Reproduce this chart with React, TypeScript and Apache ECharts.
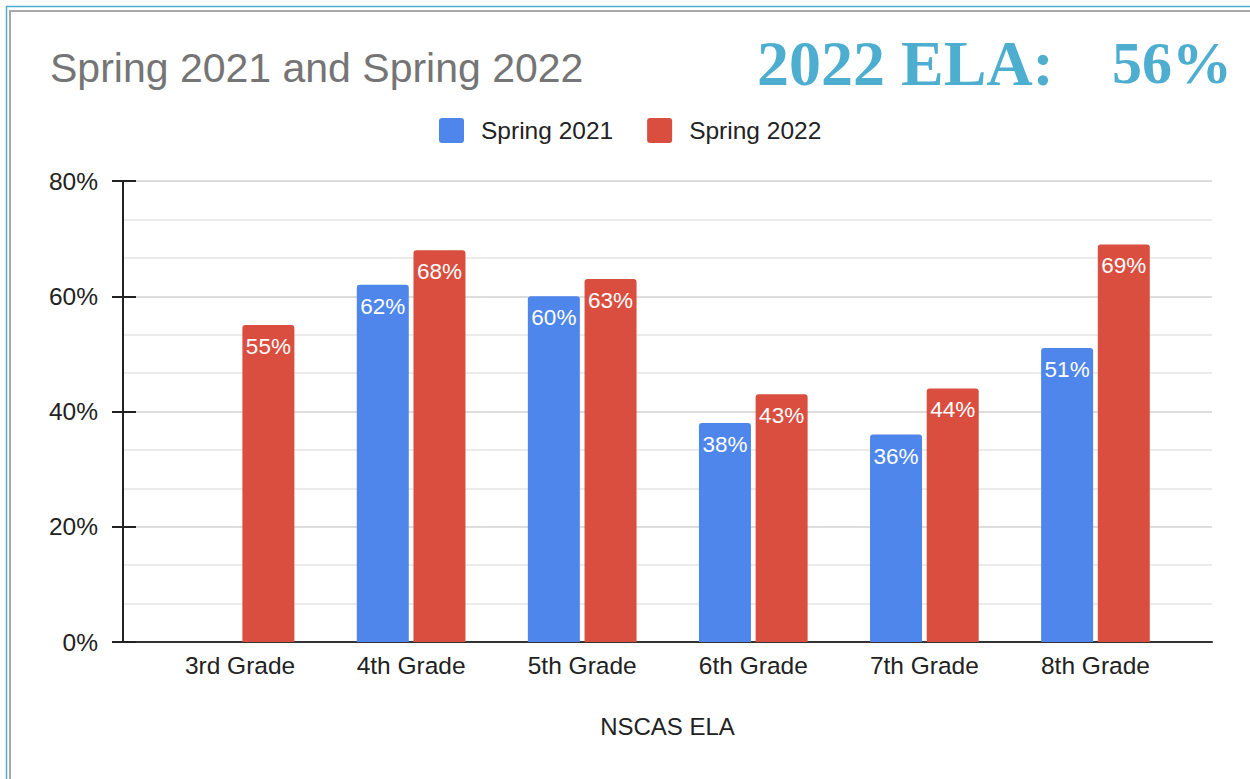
import React, { useEffect, useRef } from "react";
import * as echarts from "echarts";

const categories = ["3rd Grade", "4th Grade", "5th Grade", "6th Grade", "7th Grade", "8th Grade"];
const spring2021 = [null, 62, 60, 38, 36, 51];
const spring2022 = [55, 68, 63, 43, 44, 69];
const seriesNames = ["Spring 2021", "Spring 2022"];
const yTicks = { min: 0, max: 80, interval: 20 };
const titleText = "Spring 2021 and Spring 2022";
const headlineLabel = "2022 ELA:";
const headlineValue = "56%";
const xAxisName = "NSCAS ELA";

const SANS = "'Liberation Sans', Arial, Helvetica, sans-serif";
const SERIF = "'Liberation Serif', 'Times New Roman', serif";
const BLUE = "#4e86ec";
const RED = "#da4e3f";
const LEGEND_ICON = "path://M3,0 H22 Q25,0 25,3 V22 Q25,25 22,25 H3 Q0,25 0,22 V3 Q0,0 3,0 Z";

export default function App() {
  const ref = useRef<HTMLDivElement>(null);
  useEffect(() => {
    document.body.style.margin = "0";
    if (!ref.current) return;
    const chart = echarts.init(ref.current, null, { renderer: "svg" });
    const labelStyle = {
      show: true,
      position: "insideTop",
      distance: 10,
      color: "#ffffff",
      fontSize: 22.5,
      fontFamily: SANS,
      formatter: "{c}%",
    };
    chart.setOption({
      animation: false,
      backgroundColor: "#ffffff",
      textStyle: { fontFamily: SANS },
      legend: {
        left: 434,
        top: 113,
        itemWidth: 25,
        itemHeight: 25,
        itemGap: 34,
        icon: LEGEND_ICON,
        data: seriesNames,
        textStyle: { fontSize: 24.5, color: "#222222", fontFamily: SANS, padding: [0, 0, 0, 12] },
      },
      grid: [
        { left: 123, right: 38, top: 181, bottom: 137 },
        { left: 154.5, right: 69, top: 181, bottom: 137 },
      ],
      xAxis: [
        {
          gridIndex: 0,
          type: "value",
          min: 0,
          max: 1,
          axisLine: { show: true, lineStyle: { color: "#333333", width: 2 } },
          axisTick: { show: false },
          axisLabel: { show: false },
          splitLine: { show: false },
          name: xAxisName,
          nameLocation: "middle",
          nameGap: 72,
          nameTextStyle: { fontSize: 24, color: "#222222", fontFamily: SANS },
        },
        {
          gridIndex: 1,
          type: "category",
          data: categories,
          axisLine: { show: false },
          axisTick: { show: false },
          axisLabel: { fontSize: 24.5, color: "#222222", margin: 11, fontFamily: SANS },
        },
      ],
      yAxis: [
        {
          gridIndex: 0,
          type: "value",
          position: "left",
          min: yTicks.min,
          max: yTicks.max,
          interval: yTicks.interval,
          axisLine: { show: true, lineStyle: { color: "#222222", width: 2 } },
          axisTick: { show: true, length: 11, lineStyle: { color: "#222222", width: 2 } },
          axisLabel: { fontSize: 24.5, color: "#222222", margin: 25, formatter: "{value}%", fontFamily: SANS },
          splitLine: { show: true, lineStyle: { color: "#d2d2d2", width: 1.5 } },
          minorTick: { show: false, splitNumber: 3 },
          minorSplitLine: { show: true, lineStyle: { color: "#e4e4e4", width: 1.5 } },
        },
        {
          gridIndex: 0,
          type: "value",
          position: "left",
          offset: 0,
          min: yTicks.min,
          max: yTicks.max,
          interval: yTicks.interval,
          axisLine: { show: false },
          axisTick: { show: true, inside: true, length: 13, lineStyle: { color: "#222222", width: 2 } },
          axisLabel: { show: false },
          splitLine: { show: false },
        },
        {
          gridIndex: 1,
          type: "value",
          min: yTicks.min,
          max: yTicks.max,
          show: false,
        },
      ],
      series: [
        {
          name: seriesNames[0],
          type: "bar",
          xAxisIndex: 1,
          yAxisIndex: 2,
          data: spring2021,
          barWidth: 52,
          barGap: "9%",
          itemStyle: { color: BLUE, borderRadius: [3, 3, 0, 0] },
          label: labelStyle,
        },
        {
          name: seriesNames[1],
          type: "bar",
          xAxisIndex: 1,
          yAxisIndex: 2,
          data: spring2022,
          barWidth: 52,
          barGap: "9%",
          itemStyle: { color: RED, borderRadius: [3, 3, 0, 0] },
          label: labelStyle,
        },
      ],
      graphic: [
        { type: "line", shape: { x1: 6, y1: 6.5, x2: 1250, y2: 6.5 }, style: { stroke: "#4eaed0", lineWidth: 1.5 }, z: 10 },
        { type: "line", shape: { x1: 6.5, y1: 6, x2: 6.5, y2: 779 }, style: { stroke: "#4eaed0", lineWidth: 1.5 }, z: 10 },
        { type: "line", shape: { x1: 9, y1: 11, x2: 1250, y2: 11 }, style: { stroke: "#a8a8a8", lineWidth: 2 }, z: 10 },
        { type: "line", shape: { x1: 10, y1: 10, x2: 10, y2: 779 }, style: { stroke: "#a8a8a8", lineWidth: 2 }, z: 10 },
        {
          type: "text",
          x: 50,
          y: 68,
          style: { text: titleText, fontSize: 41, fill: "#757575", fontFamily: SANS, verticalAlign: "middle", align: "left" },
        },
        {
          type: "text",
          x: 757,
          y: 63,
          style: { text: headlineLabel, fontSize: 64, fontWeight: "bold", fill: "#4eaed0", fontFamily: SERIF, verticalAlign: "middle", align: "left" },
        },
        {
          type: "text",
          x: 1232,
          y: 63,
          style: { text: headlineValue, fontSize: 60, fontWeight: "bold", fill: "#4eaed0", fontFamily: SERIF, verticalAlign: "middle", align: "right" },
        },
      ],
    });
    return () => chart.dispose();
  }, []);
  return <div ref={ref} style={{ width: 1250, height: 779 }} />;
}
